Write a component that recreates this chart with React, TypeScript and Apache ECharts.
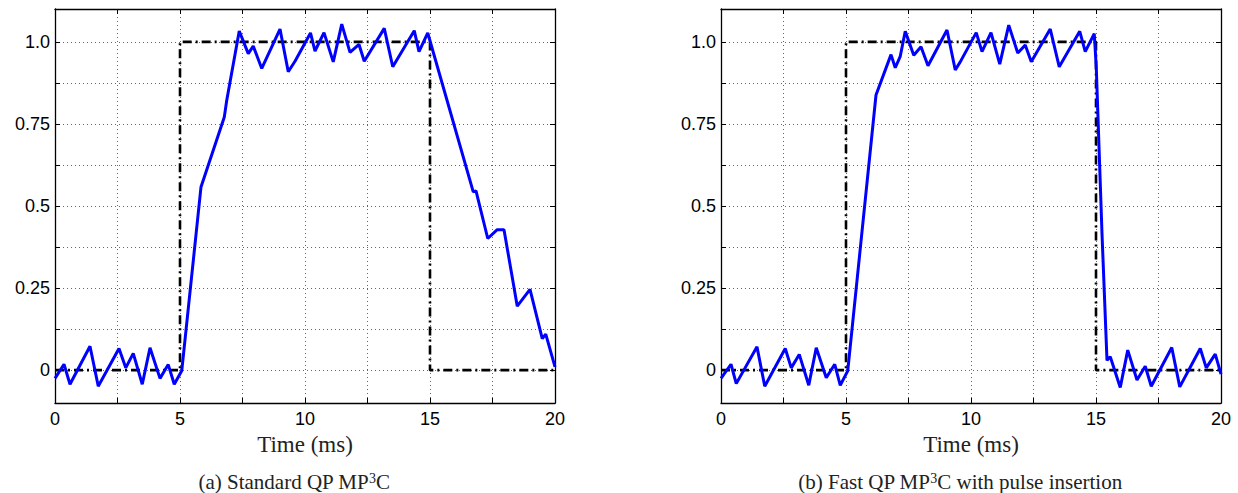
import React, { useEffect, useRef } from "react";
import * as echarts from "echarts";

// Tick values
const xLabelValues = [0, 5, 10, 15, 20];
const yLabelValues = [0, 0.25, 0.5, 0.75, 1.0];
const yGridValues = [0, 0.125, 0.25, 0.375, 0.5, 0.625, 0.75, 0.875, 1.0];

// Reference (dash-dot) pulse
const refTime = [0, 5, 5, 15, 15, 20];
const refValue = [0, 0, 1, 1, 0, 0];

// (a) Standard QP MP3C
const timeA = [0, 0.36, 0.6, 1.4, 1.73, 2.56, 2.83, 3.13, 3.49, 3.8, 4.2, 4.53, 4.77, 5.07, 5.84, 6.77, 6.87, 7.37, 7.73, 7.93, 8.27, 9.0, 9.33, 9.6, 10.22, 10.4, 10.76, 11.13, 11.47, 11.8, 12.16, 12.37, 13.17, 13.51, 14.37, 14.56, 14.91, 16.73, 16.84, 17.31, 17.69, 17.96, 18.49, 19.0, 19.49, 19.63, 20.0];
const valueA = [-0.025, 0.018, -0.043, 0.073, -0.049, 0.066, 0.007, 0.051, -0.043, 0.068, -0.025, 0.017, -0.043, -0.002, 0.558, 0.77, 0.822, 1.033, 0.964, 0.987, 0.919, 1.039, 0.909, 0.941, 1.027, 0.972, 1.028, 0.939, 1.054, 0.968, 0.992, 0.941, 1.041, 0.924, 1.034, 0.97, 1.027, 0.543, 0.546, 0.401, 0.428, 0.428, 0.195, 0.246, 0.096, 0.11, 0.01];

// (b) Fast QP MP3C with pulse insertion
const timeB = [0, 0.4, 0.61, 1.44, 1.75, 2.57, 2.81, 3.13, 3.51, 3.81, 4.21, 4.55, 4.77, 5.07, 6.2, 6.8, 6.97, 7.17, 7.37, 7.71, 8.0, 8.28, 9.04, 9.37, 9.57, 10.21, 10.44, 10.8, 11.15, 11.51, 11.87, 12.17, 12.41, 13.17, 13.53, 14.35, 14.57, 14.93, 15.01, 15.24, 15.44, 15.57, 15.97, 16.27, 16.64, 16.97, 17.21, 18.03, 18.35, 19.17, 19.41, 19.77, 20.0];
const valueB = [-0.025, 0.018, -0.041, 0.071, -0.049, 0.066, 0.007, 0.048, -0.046, 0.068, -0.023, 0.018, -0.046, -0.002, 0.838, 0.961, 0.921, 0.956, 1.032, 0.959, 0.985, 0.927, 1.036, 0.914, 0.939, 1.028, 0.97, 1.028, 0.932, 1.051, 0.966, 0.99, 0.939, 1.039, 0.924, 1.032, 0.97, 1.025, 0.924, 0.416, 0.03, 0.041, -0.053, 0.061, -0.03, 0.012, -0.049, 0.069, -0.051, 0.066, 0.007, 0.049, -0.012];

const captions = ["(a) Standard QP MP{sup|3}C", "(b) Fast QP MP{sup|3}C with pulse insertion"];
const xName = "Time (ms)";

const pairs = (t: number[], v: number[]) => t.map((x, i) => [x, v[i]]);

export default function App() {
  const ref = useRef<HTMLDivElement>(null);
  useEffect(() => {
    if (!ref.current) return;
    const chart = echarts.init(ref.current, null, { renderer: "svg" });
    const grids = [
      { left: 55, top: 9, width: 500, height: 394 },
      { left: 721, top: 9, width: 500, height: 394 },
    ];
    const sans = "'Liberation Sans', Arial, sans-serif";
    const serif = "'Liberation Serif', 'Times New Roman', serif";
    const axisLine = { show: true, onZero: false, lineStyle: { color: "#000", width: 1.3 } };
    const gridLine = { show: true, lineStyle: { color: "#666", width: 1, type: [1, 3] as any } };
    const xAxes: any[] = [];
    const yAxes: any[] = [];
    grids.forEach((_, g) => {
      xAxes.push({
        type: "value", gridIndex: g, position: "bottom", min: 0, max: 20, interval: 2.5,
        axisLine, axisTick: { show: true, inside: true, length: 5, lineStyle: { color: "#000" } },
        axisLabel: { customValues: xLabelValues, margin: 7, color: "#000", fontFamily: sans, fontSize: 18, formatter: (v: number) => String(v) },
        splitLine: gridLine,
        name: xName, nameLocation: "middle", nameGap: 23,
        nameTextStyle: { fontFamily: serif, fontSize: 23, color: "#222" },
      });
      xAxes.push({
        type: "value", gridIndex: g, position: "top", min: 0, max: 20, interval: 2.5,
        axisLine, axisTick: { show: true, inside: true, length: 5, lineStyle: { color: "#000" } },
        axisLabel: { show: false }, splitLine: { show: false },
      });
      yAxes.push({
        type: "value", gridIndex: g, position: "left", min: -0.1, max: 1.1,
        axisLine,
        axisTick: { show: true, inside: true, length: 5, customValues: yGridValues, lineStyle: { color: "#000" } },
        axisLabel: {
          customValues: yLabelValues, margin: 5, color: "#000", fontFamily: sans, fontSize: 18,
          formatter: (v: number) => (v === 0 ? "0" : v === 1 ? "1.0" : String(v)),
        },
        splitLine: gridLine,
      });
      yAxes.push({
        type: "value", gridIndex: g, position: "right", min: -0.1, max: 1.1,
        axisLine,
        axisTick: { show: true, inside: true, length: 5, customValues: yGridValues, lineStyle: { color: "#000" } },
        axisLabel: { show: false }, splitLine: { show: false },
      });
    });
    const refSeries = (g: number) => ({
      type: "line", xAxisIndex: g * 2, yAxisIndex: g * 2, data: pairs(refTime, refValue),
      showSymbol: false, symbol: "none", z: 2,
      lineStyle: { color: "#000", width: 2.6, type: [9, 4, 2, 4] as any },
    });
    const blueSeries = (g: number, t: number[], v: number[]) => ({
      type: "line", xAxisIndex: g * 2, yAxisIndex: g * 2, data: pairs(t, v),
      showSymbol: false, symbol: "none", z: 3,
      lineStyle: { color: "#0000ff", width: 3 },
    });
    const capStyle = (text: string, x: number) => ({
      type: "text", x, y: 482,
      style: {
        text, x: 0, y: 0, align: "center", verticalAlign: "middle",
        fontFamily: serif, fontSize: 21, fill: "#222",
        rich: { sup: { fontSize: 14, fontFamily: serif, verticalAlign: "top", lineHeight: 12, fill: "#222" } },
      },
    });
    chart.setOption({
      animation: false,
      backgroundColor: "#fff",
      grid: grids,
      xAxis: xAxes,
      yAxis: yAxes,
      series: [refSeries(0), blueSeries(0, timeA, valueA), refSeries(1), blueSeries(1, timeB, valueB)],
      graphic: [capStyle(captions[0], 294), capStyle(captions[1], 960)],
    });
    return () => chart.dispose();
  }, []);
  return <div ref={ref} style={{ position: "fixed", left: 0, top: 0, width: 1238, height: 493 }} />;
}
